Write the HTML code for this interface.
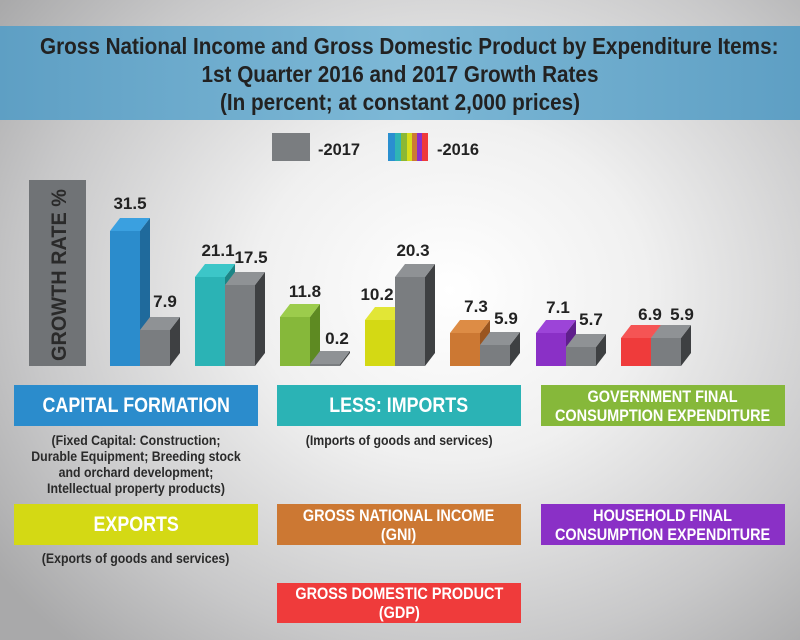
<!DOCTYPE html>
<html><head><meta charset="utf-8"><style>
html,body{margin:0;padding:0}
body{width:800px;height:640px;overflow:hidden;position:relative;font-family:"Liberation Sans",sans-serif;
background:radial-gradient(ellipse 560px 480px at 450px 290px,#ffffff 0%,#f0f0f0 35%,#c8c8c9 75%,#a9a9aa 100%);}
.t{position:absolute;left:0;top:26px;width:800px;height:94px;background:linear-gradient(90deg,#5e9fc4,#7db8d6 50%,#5e9fc4);
text-align:center;font-weight:bold;font-size:23px;line-height:28px;color:#222;padding-top:6px;box-sizing:border-box}
.t div{transform:scaleX(0.9);transform-origin:center;white-space:nowrap}
.box{position:absolute;color:#fff;font-weight:bold;text-align:center;display:flex;align-items:center;justify-content:center;box-sizing:border-box;line-height:19px;white-space:nowrap}
.box span{display:inline-block;transform:scaleX(0.85)}
.sub{position:absolute;font-weight:bold;font-size:14px;line-height:16px;color:#2a2a2a;text-align:center;white-space:nowrap}
.sub span{display:inline-block;transform:scaleX(0.88)}
</style></head><body>
<div class="t"><div>Gross National Income and Gross Domestic Product by Expenditure Items:</div><div>1st Quarter 2016 and 2017 Growth Rates</div><div>(In percent; at constant 2,000 prices)</div></div>
<svg width="800" height="640" style="position:absolute;left:0;top:0" font-family="Liberation Sans, sans-serif" font-weight="bold">
<rect x="272" y="133" width="38" height="28" fill="#7a7d80"/>
<text x="318" y="155" font-size="17" fill="#222" textLength="42" lengthAdjust="spacingAndGlyphs">-2017</text>
<rect x="388" y="133" width="7" height="28" fill="#2a8fd0"/><rect x="395" y="133" width="6" height="28" fill="#2fb5b5"/><rect x="401" y="133" width="6" height="28" fill="#8bb834"/><rect x="407" y="133" width="5" height="28" fill="#d7dd1a"/><rect x="412" y="133" width="5" height="28" fill="#cc7a33"/><rect x="417" y="133" width="5" height="28" fill="#8a2fc9"/><rect x="422" y="133" width="6" height="28" fill="#ef3a3a"/>
<text x="437" y="155" font-size="17" fill="#222" textLength="42" lengthAdjust="spacingAndGlyphs">-2016</text>
<rect x="29" y="180" width="57" height="186" fill="#707376"/>
<text transform="translate(66,361) rotate(-90)" font-size="21" fill="#2a2a2a" textLength="172" lengthAdjust="spacingAndGlyphs">GROWTH RATE %</text>
<g id="bars"></g>
</svg>
<div class="box" style="left:14px;top:385px;width:244px;height:41px;background:#2b8ccc;font-size:21px"><span>CAPITAL FORMATION</span></div>
<div class="box" style="left:277px;top:385px;width:244px;height:41px;background:#2bb3b5;font-size:21px"><span>LESS: IMPORTS</span></div>
<div class="box" style="left:541px;top:385px;width:244px;height:41px;background:#86b83a;font-size:17px"><span>GOVERNMENT FINAL<br>CONSUMPTION EXPENDITURE</span></div>
<div class="box" style="left:14px;top:504px;width:244px;height:41px;background:#d4d914;font-size:21px"><span>EXPORTS</span></div>
<div class="box" style="left:277px;top:504px;width:244px;height:41px;background:#cc7833;font-size:17px"><span>GROSS NATIONAL INCOME<br>(GNI)</span></div>
<div class="box" style="left:541px;top:504px;width:244px;height:41px;background:#8a30c6;font-size:17px"><span>HOUSEHOLD FINAL<br>CONSUMPTION EXPENDITURE</span></div>
<div class="box" style="left:277px;top:583px;width:244px;height:40px;background:#ef3b3b;font-size:17px"><span>GROSS DOMESTIC PRODUCT<br>(GDP)</span></div>
<div class="sub" style="left:14px;top:432px;width:244px"><span>(Fixed Capital: Construction;<br>Durable Equipment; Breeding stock<br>and orchard development;<br>Intellectual property products)</span></div>
<div class="sub" style="left:277px;top:432px;width:244px"><span>(Imports of goods and services)</span></div>
<div class="sub" style="left:14px;top:550px;width:244px"><span>(Exports of goods and services)</span></div>
<script>
var B=[[110,231,"#2b8ccc","#1f6a9c","#3aa0e0","31.5",130,209],[140,330,"#7a7d80","#3e4042","#8f9295","7.9",165,307],
[195,277,"#2bb3b5","#1d8586","#3cc6c8","21.1",218,256],[225,285,"#7a7d80","#3e4042","#8f9295","17.5",251,263],
[280,317,"#86b83a","#5e8a22","#9ccc4c","11.8",305,297],[310,364,"#7a7d80","#3e4042","#8f9295","0.2",337,344],
[365,320,"#d4d914","#a6aa0c","#e2e636","10.2",377,300],[395,277,"#7a7d80","#3e4042","#8f9295","20.3",413,256],
[450,333,"#cc7833","#9a5520","#dd8c45","7.3",476,312],[480,345,"#7a7d80","#3e4042","#8f9295","5.9",506,324],
[536,333,"#8a30c6","#5f1f8c","#9c44d8","7.1",558,313],[566,347,"#7a7d80","#3e4042","#8f9295","5.7",591,325],
[621,338,"#ef3b3b","#b02525","#f55454","6.9",650,320],[651,338,"#7a7d80","#3e4042","#8f9295","5.9",682,320]];
var s="",base=366,dx=10,dy=13,w=30;
B.forEach(function(b,i){var x=b[0],t=b[1];
s+='<polygon points="'+(x+w)+','+t+' '+(x+w+dx)+','+(t-dy)+' '+(x+w+dx)+','+(base-dy)+' '+(x+w)+','+base+'" fill="'+b[3]+'"/>';
s+='<polygon points="'+x+','+t+' '+(x+dx)+','+(t-dy)+' '+(x+w+dx)+','+(t-dy)+' '+(x+w)+','+t+'" fill="'+b[4]+'"/>';
s+='<rect x="'+x+'" y="'+t+'" width="'+w+'" height="'+(base-t)+'" fill="'+b[2]+'"/>';
s+='<text x="'+b[6]+'" y="'+b[7]+'" font-size="17" fill="#222" text-anchor="middle">'+b[5]+'</text>';});
document.getElementById("bars").innerHTML=s;
</script>
</body></html>
